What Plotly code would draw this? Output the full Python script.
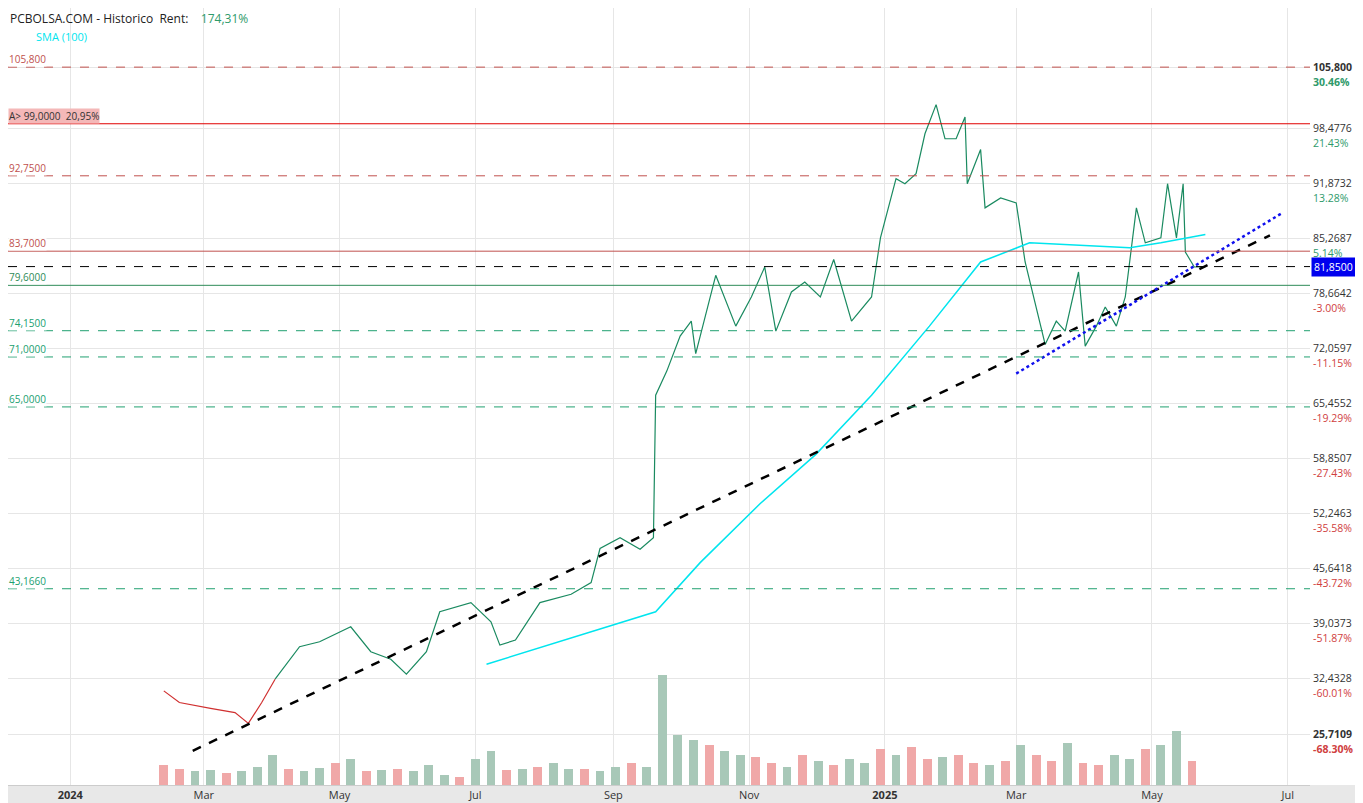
import plotly.graph_objects as go
import pandas as pd

price_dates = ["2024-02-12","2024-02-19","2024-03-04","2024-03-15","2024-03-21","2024-03-27","2024-04-02","2024-04-13","2024-04-22","2024-05-06","2024-05-15","2024-05-24","2024-05-31","2024-06-09","2024-06-15","2024-06-29","2024-07-08","2024-07-12","2024-07-19","2024-07-30","2024-08-13","2024-08-22","2024-08-26","2024-09-04","2024-09-13","2024-09-19","2024-09-20","2024-09-25","2024-10-01","2024-10-06","2024-10-08","2024-10-17","2024-10-26","2024-11-02","2024-11-08","2024-11-13","2024-11-20","2024-11-26","2024-12-03","2024-12-09","2024-12-17","2024-12-26","2024-12-30","2025-01-06","2025-01-10","2025-01-15","2025-01-19","2025-01-24","2025-01-28","2025-02-02","2025-02-06","2025-02-07","2025-02-13","2025-02-15","2025-02-22","2025-03-01","2025-03-05","2025-03-12","2025-03-14","2025-03-19","2025-03-23","2025-03-29","2025-04-01","2025-04-06","2025-04-10","2025-04-15","2025-04-19","2025-04-24","2025-04-28","2025-05-05","2025-05-08","2025-05-12","2025-05-15","2025-05-16","2025-05-20","2025-05-25"]
price_vals = [30.9,29.5,28.8,28.3,27.0,29.5,32.3,36.2,36.8,38.6,35.6,34.7,32.9,35.6,40.4,41.5,39.2,36.4,37.0,41.5,42.5,43.9,48.0,49.3,47.9,49.3,66.4,69.3,73.5,75.3,71.4,80.8,74.7,78.2,81.8,74.1,78.8,80.0,78.2,82.7,75.3,78.2,85.3,92.4,91.8,93.0,97.8,101.3,97.2,97.2,99.8,91.8,95.9,88.9,90.1,89.5,82.4,74.7,72.5,75.3,74.1,81.2,72.3,74.7,77.0,74.7,78.2,88.9,84.7,85.3,91.8,85.3,91.8,83.6,81.8,81.85]
sma_dates = ["2024-07-06","2024-09-20","2024-10-10","2024-11-06","2024-12-01","2024-12-26","2025-01-21","2025-02-13","2025-03-07","2025-03-29","2025-04-21","2025-05-05","2025-05-25"]
sma_vals = [34.1,40.4,46.3,53.4,59.3,66.4,74.7,82.4,84.7,84.4,84.1,84.7,85.7]
vol_dates = pd.date_range("2024-02-12", periods=67, freq="7D")
vol_vals = [20,16,14,15,12,14,18,30,16,14,17,22,26,14,15,16,14,20,10,8,26,34,15,16,18,22,16,16,14,18,22,18,110,50,45,40,34,30,28,22,18,30,24,20,26,22,36,30,38,26,28,30,22,20,24,40,30,24,42,22,20,30,26,36,40,54,24]
vol_dir = [0,0,1,1,0,1,1,1,0,1,1,0,1,0,1,0,1,1,1,0,1,1,0,1,0,1,1,0,1,1,0,1,1,1,1,0,1,1,0,0,1,0,1,0,1,1,0,1,0,0,1,0,0,1,0,1,0,0,1,0,0,1,1,0,1,1,0]
trend_x = ["2024-02-25","2025-06-23"]
trend_y = [23.7,85.6]
blue_x = ["2025-03-01","2025-06-28"]
blue_y = [69.0,88.2]
hlines = [(105.8,"105,800","#c0504d","dash"),(99.0,"A> 99,0000  20,95%","#e00000","solid"),(92.75,"92,7500","#c0504d","dash"),(83.7,"83,7000","#c0504d","solid"),(81.85,"","#000000","dash"),(79.6,"79,6000","#2e8b57","solid"),(74.15,"74,1500","#20a070","dash"),(71.0,"71,0000","#20a070","dash"),(65.0,"65,0000","#20a070","dash"),(43.166,"43,1660","#20a070","dash")]
right_ticks = [105.8,98.4776,91.8732,85.2687,78.6642,72.0597,65.4552,58.8507,52.2463,45.6418,39.0373,32.4328,25.7109]
right_text = ["105,800","98,4776","91,8732","85,2687","78,6642","72,0597","65,4552","58,8507","52,2463","45,6418","39,0373","32,4328","25,7109"]
right_pct = ["30.46%","21.43%","13.28%","5.14%","-3.00%","-11.15%","-19.29%","-27.43%","-35.58%","-43.72%","-51.87%","-60.01%","-68.30%"]

fig = go.Figure()
split = 7
fig.add_trace(go.Scatter(x=price_dates[:split], y=price_vals[:split], mode="lines", line=dict(color="#d03030", width=1.2)))
fig.add_trace(go.Scatter(x=price_dates[split-1:], y=price_vals[split-1:], mode="lines", line=dict(color="#1a8a60", width=1.2)))
fig.add_trace(go.Scatter(x=sma_dates, y=sma_vals, mode="lines", line=dict(color="#00e5ee", width=1.5)))
fig.add_trace(go.Scatter(x=trend_x, y=trend_y, mode="lines", line=dict(color="black", width=2.5, dash="dash")))
fig.add_trace(go.Scatter(x=blue_x, y=blue_y, mode="lines", line=dict(color="#1010ee", width=2.5, dash="dot")))
fig.add_trace(go.Bar(x=vol_dates, y=vol_vals, yaxis="y2", width=4*86400000,
                     marker=dict(color=["#a8c8b8" if d else "#f0a8a8" for d in vol_dir], line_width=0)))

for v, lab, c, d in hlines:
    fig.add_hline(y=v, line=dict(color=c, width=1, dash=d))
    if lab:
        fig.add_annotation(xref="paper", x=0, y=v, yanchor="bottom", xanchor="left", text=lab, showarrow=False,
                           font=dict(size=10, color="#333" if lab.startswith("A>") else c),
                           bgcolor="#f4b8b8" if lab.startswith("A>") else "rgba(255,255,255,0.8)", borderpad=0)
for v, t, p in zip(right_ticks, right_text, right_pct):
    bold = v in (105.8, 25.7109)
    fig.add_annotation(xref="paper", x=1.001, y=v, xanchor="left", yanchor="middle", text=("<b>%s</b>" % t) if bold else t,
                       showarrow=False, font=dict(size=10.5, color="#333"))
    pc = "#2e9a6a" if not p.startswith("-") else "#d04040"
    fig.add_annotation(xref="paper", x=1.001, y=v, xanchor="left", yanchor="top", yshift=-6, text=("<b>%s</b>" % p) if bold else p,
                       showarrow=False, font=dict(size=10.5, color=pc))
fig.add_annotation(xref="paper", x=1.001, y=81.85, xanchor="left", yanchor="middle", text="81,8500", showarrow=False,
                   font=dict(size=10.5, color="white"), bgcolor="#0000ee", borderpad=2)
fig.add_annotation(xref="paper", yref="paper", x=0.0, y=1.0, xanchor="left", yanchor="top", showarrow=False,
                   text="PCBOLSA.COM - Historico  Rent:    <span style='color:#2e9a6a'>174,31%</span>", font=dict(size=12, color="#222"))
fig.add_annotation(xref="paper", yref="paper", x=0.02, y=0.975, xanchor="left", yanchor="top", showarrow=False,
                   text="SMA (100)", font=dict(size=11, color="#00e5ee"))

fig.update_layout(width=1355, height=795, margin=dict(l=0, r=53, t=0, b=18), showlegend=False,
                  plot_bgcolor="white", paper_bgcolor="white", bargap=0,
                  xaxis=dict(range=["2023-12-04","2025-07-11"], tickvals=["2024-01-01","2024-03-01","2024-05-01","2024-07-01","2024-09-01","2024-11-01","2025-01-01","2025-03-01","2025-05-01","2025-07-01"],
                             ticktext=["<b>2024</b>","Mar","May","Jul","Sep","Nov","<b>2025</b>","Mar","May","Jul"],
                             showgrid=True, gridcolor="#e6e6e6", tickfont=dict(size=11, color="#333"), ticks="", showline=True, linecolor="#ccc"),
                  yaxis=dict(range=[19.6, 112.9], tickvals=right_ticks, showticklabels=False, showgrid=True, gridcolor="#e6e6e6", zeroline=False, side="right"),
                  yaxis2=dict(overlaying="y", range=[0, 780], visible=False))
fig.add_shape(type="rect", xref="paper", yref="paper", x0=0, x1=1.05, y0=-0.03, y1=0, fillcolor="#e8e8e8", line_width=0, layer="below")
fig.write_html("out.html")
